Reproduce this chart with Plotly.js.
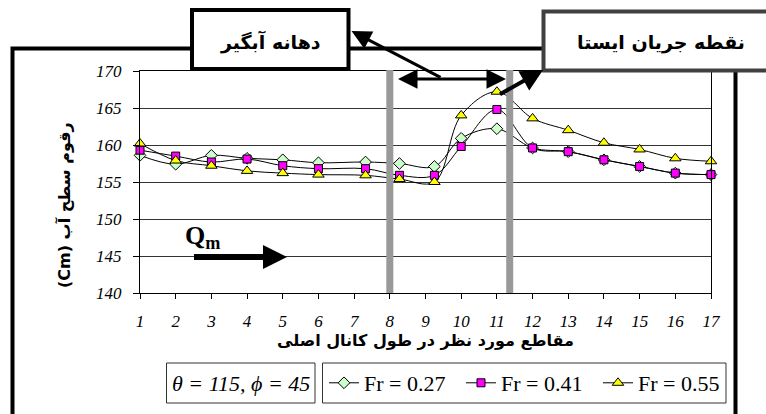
<!DOCTYPE html>
<html>
<head>
<meta charset="utf-8">
<script src="https://cdn.plot.ly/plotly-3.0.1.min.js"></script>
<style>html,body{margin:0;padding:0;background:#fff;}#chart{width:766px;height:414px;}</style>
</head>
<body>
<div id="chart"></div>
<script>
// ---- data ----
const sectionPos = [1, 2, 3, 4, 5, 6, 7.32, 8.27, 9.25, 10, 11, 12, 13, 14, 15, 16, 17];
const fr027 = [158.6, 157.4, 158.6, 158.2, 158.0, 157.6, 157.7, 157.5, 157.1, 160.9, 162.2, 159.6, 159.1, 158.0, 157.1, 156.2, 156.0];
const fr041 = [159.3, 158.5, 157.7, 158.1, 157.2, 156.8, 156.8, 155.9, 155.9, 159.8, 164.8, 159.6, 159.1, 158.0, 157.1, 156.2, 156.0];
const fr055 = [160.2, 157.9, 157.2, 156.5, 156.2, 156.0, 155.9, 155.4, 155.0, 164.0, 167.2, 163.6, 162.0, 160.3, 159.4, 158.2, 157.8];
const seriesNames = ['Fr = 0.27', 'Fr = 0.41', 'Fr = 0.55'];
const xTickVals = [1, 2, 3, 4, 5, 6, 7, 8, 9, 10, 11, 12, 13, 14, 15, 16, 17];
const yTickVals = [140, 145, 150, 155, 160, 165, 170];
const xTitle = 'مقاطع مورد نظر در طول کانال اصلی';
const yTitle = '(Cm) رقوم سطح آب';
const box1Text = 'دهانه آبگیر';
const box2Text = 'نقطه جریان ایستا';
const paramText = 'θ = 115, ϕ = 45';
const sectionLines = [8, 11.36];

// ---- geometry helpers (pixel -> paper) ----
const PL = 140, PR = 711, PT = 71, PB = 293;
const fx = x => (x - PL) / (PR - PL);
const fy = y => (PB - y) / (PB - PT);

const serif = 'Liberation Serif, Times New Roman, serif';
const arab = 'DejaVu Sans, Liberation Sans, sans-serif';

function trace(y, name, symbol, color, size) {
  return {
    x: sectionPos, y: y, name: name, type: 'scatter', mode: 'lines+markers',
    line: {color: '#000', width: 1, shape: 'spline', smoothing: 1},
    marker: {symbol: symbol, color: color, size: size, line: {color: '#000', width: 1}},
    cliponaxis: false
  };
}

const data = [
  trace(fr027, seriesNames[0], 'diamond', '#ccffcc', 9),
  trace(fr041, seriesNames[1], 'square', '#ff00ff', 8),
  trace(fr055, seriesNames[2], 'triangle-up', '#ffff00', 10)
];

const shapes = [
  // outer frame
  {type: 'rect', xref: 'paper', yref: 'paper', x0: fx(12.5), x1: fx(735.5), y0: fy(440), y1: fy(48.5),
   line: {color: '#000', width: 4}, fillcolor: 'rgba(0,0,0,0)', layer: 'above'},
  // callout boxes
  {type: 'rect', xref: 'paper', yref: 'paper', x0: fx(192), x1: fx(348.5), y0: fy(69), y1: fy(10),
   line: {color: '#000', width: 4}, fillcolor: '#fff', layer: 'above'},
  {type: 'rect', xref: 'paper', yref: 'paper', x0: fx(543.5), x1: fx(800), y0: fy(70.5), y1: fy(11.5),
   line: {color: '#404040', width: 4}, fillcolor: '#fff', layer: 'above'},
  // legend boxes
  {type: 'rect', xref: 'paper', yref: 'paper', x0: fx(166.5), x1: fx(315), y0: fy(403), y1: fy(363),
   line: {color: '#333', width: 1}, fillcolor: '#fff', layer: 'below'},
  {type: 'rect', xref: 'paper', yref: 'paper', x0: fx(322.5), x1: fx(726), y0: fy(403), y1: fy(363),
   line: {color: '#333', width: 1}, fillcolor: '#fff', layer: 'below'}
];
sectionLines.forEach(v => shapes.push({
  type: 'line', xref: 'x', yref: 'paper', x0: v, x1: v, y0: 0, y1: fy(70),
  line: {color: '#999999', width: 7}, layer: 'above'
}));

const annotations = [
  {xref: 'paper', yref: 'paper', x: fx(64), y: fy(205), text: '<b>' + yTitle + '</b>', showarrow: false, textangle: -90,
   font: {family: arab, size: 16, color: '#000'}, xanchor: 'center', yanchor: 'middle'},
  {xref: 'paper', yref: 'paper', x: fx(270), y: fy(42), text: '<b>' + box1Text + '</b>', showarrow: false,
   font: {family: arab, size: 19, color: '#000'}, xanchor: 'center', yanchor: 'middle'},
  {xref: 'paper', yref: 'paper', x: fx(661), y: fy(42), text: '<b>' + box2Text + '</b>', showarrow: false,
   font: {family: arab, size: 19, color: '#000'}, xanchor: 'center', yanchor: 'middle'},
  {xref: 'paper', yref: 'paper', x: fx(241), y: fy(383), text: '<i>' + paramText + '</i>', showarrow: false,
   font: {family: serif, size: 22, color: '#000'}, xanchor: 'center', yanchor: 'middle'},
  {xref: 'paper', yref: 'paper', x: fx(202), y: fy(237), text: '<b>Q<sub>m</sub></b>', showarrow: false,
   font: {family: serif, size: 26, color: '#000'}, xanchor: 'center', yanchor: 'middle'},
  // Qm arrow
  {xref: 'paper', yref: 'paper', x: fx(287), y: fy(257), ax: -96, ay: 0, text: ' ', showarrow: true,
   arrowhead: 2, arrowsize: 0.8, arrowwidth: 6, arrowcolor: '#000', standoff: 0},
  // arrow to box 1
  {xref: 'paper', yref: 'paper', x: fx(351.5), y: fy(31), ax: 92, ay: 48, text: ' ', showarrow: true,
   arrowhead: 2, arrowsize: 1.3, arrowwidth: 3, arrowcolor: '#000', standoff: 0},
  // double arrow between sections
  {xref: 'paper', yref: 'paper', x: fx(506), y: fy(79), ax: -111, ay: 0, text: ' ', showarrow: true,
   arrowhead: 2, startarrowhead: 2, arrowside: 'end+start', arrowsize: 1.3, startarrowsize: 1.3,
   arrowwidth: 3, arrowcolor: '#000', standoff: 0, startstandoff: 0},
  // arrow to box 2
  {xref: 'paper', yref: 'paper', x: fx(543), y: fy(70), ax: -46, ay: 26, text: ' ', showarrow: true,
   arrowhead: 2, arrowsize: 1.1, arrowwidth: 4, arrowcolor: '#000', standoff: 0}
];

const layout = {
  width: 766, height: 414,
  margin: {l: PL, r: 766 - PR, t: PT, b: 414 - PB, autoexpand: false},
  paper_bgcolor: '#fff', plot_bgcolor: '#fff',
  showlegend: true,
  legend: {orientation: 'h', x: fx(324), y: fy(383), xanchor: 'left', yanchor: 'middle',
           font: {family: serif, size: 22, color: '#000'}, bgcolor: 'rgba(0,0,0,0)', borderwidth: 0,
           entrywidth: 92, entrywidthmode: 'pixels',
           itemclick: false, tracegroupgap: 0},
  xaxis: {range: [1, 17], tickvals: xTickVals, ticktext: xTickVals.map(String),
          showgrid: false, zeroline: false, showline: true, linecolor: '#000', linewidth: 1, mirror: true,
          ticks: 'outside', ticklen: 5, tickcolor: '#000', ticklabelstandoff: 8,
          tickfont: {family: serif, size: 17, style: 'italic', color: '#000'}, fixedrange: true,
          automargin: false,
          title: {text: '<b>' + xTitle + '</b>', standoff: 4, font: {family: arab, size: 16, color: '#000'}}},
  yaxis: {range: [140, 170], tickvals: yTickVals, showgrid: true, gridcolor: '#333', gridwidth: 1,
          zeroline: false, showline: true, linecolor: '#000', linewidth: 1, mirror: true,
          ticks: 'outside', ticklen: 6, tickcolor: '#000', ticklabelstandoff: 8,
          tickfont: {family: serif, size: 17, style: 'italic', color: '#000'}, fixedrange: true,
          automargin: false},
  shapes: shapes,
  annotations: annotations
};

Plotly.newPlot('chart', data, layout, {displayModeBar: false, staticPlot: true});
</script>
</body>
</html>
